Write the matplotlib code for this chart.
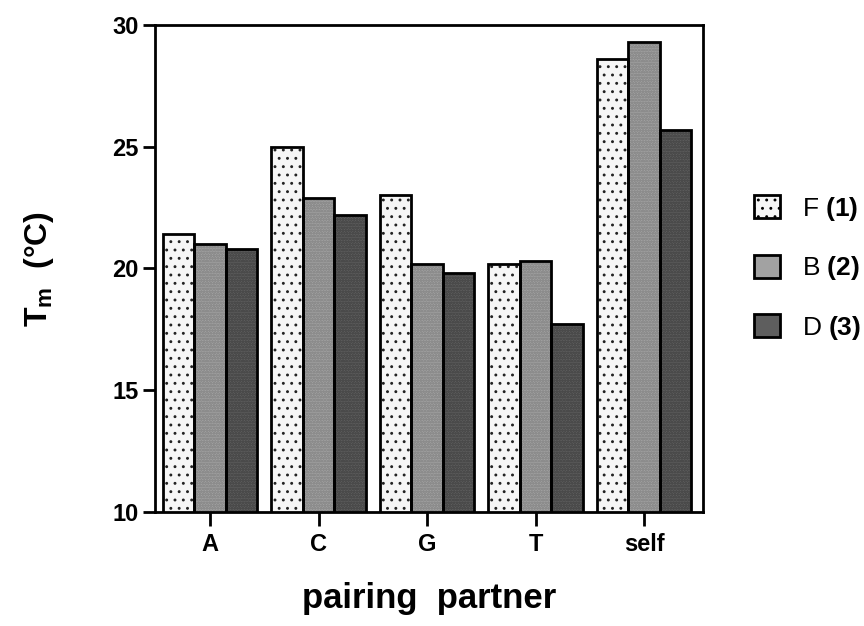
import numpy as np
import matplotlib
matplotlib.use("Agg")
import matplotlib.pyplot as plt
from matplotlib.patches import Patch

plt.rcParams['font.family'] = ['Liberation Sans', 'DejaVu Sans']
plt.rcParams['mathtext.fontset'] = 'custom'
plt.rcParams['mathtext.rm'] = 'Liberation Sans'
plt.rcParams['mathtext.bf'] = 'Liberation Sans:bold'
plt.rcParams['hatch.linewidth'] = 0.9

partners = ["A", "C", "G", "T", "self"]
series = ["F", "B", "D"]
series_num = ["1", "2", "3"]
tm_F = [21.4, 25.0, 23.0, 20.2, 28.6]
tm_B = [21.0, 22.9, 20.2, 20.3, 29.3]
tm_D = [20.8, 22.2, 19.8, 17.7, 25.7]

faces = ["#f6f6f6", "#a2a2a2", "#5e5e5e"]
hatch_cols = ["#222222", "#8c8c8c", "#4a4a4a"]
hatches = ["..", "oooooo", "oooooo"]

fig = plt.figure(figsize=(8.64, 6.26), dpi=100)
ax = fig.add_axes([0.1794, 0.1821, 0.6343, 0.7780])

x = np.arange(len(partners))
w = 0.289
for i, vals in enumerate([tm_F, tm_B, tm_D]):
    pos = x + (i - 1) * w
    ax.bar(pos, vals, w, color=faces[i], edgecolor=hatch_cols[i],
           hatch=hatches[i], linewidth=0, zorder=2)
    ax.bar(pos, vals, w, facecolor="none", edgecolor="black",
           linewidth=2.0, zorder=3)

ax.set_xlim(-0.507, 4.544)
ax.set_ylim(10, 30)
ax.set_yticks([10, 15, 20, 25, 30])
ax.set_xticks(x)
ax.set_xticklabels(partners)
for s in ax.spines.values():
    s.set_linewidth(2)
ax.tick_params(axis="y", length=9, width=2, labelsize=17, pad=3)
ax.tick_params(axis="x", length=10, width=2, labelsize=17, pad=5)
for lab in ax.get_xticklabels() + ax.get_yticklabels():
    lab.set_fontweight("bold")

ax.set_ylabel(r"$\mathbf{T_m}$  (°C)", fontsize=23, fontweight="bold", labelpad=40)
ax.set_xlabel("pairing  partner", fontsize=25, fontweight="bold", labelpad=19)

handles = [Patch(facecolor=faces[0], edgecolor="black", hatch=hatches[0], linewidth=2.0),
           Patch(facecolor=faces[1], edgecolor="black", linewidth=2.0),
           Patch(facecolor=faces[2], edgecolor="black", linewidth=2.0)]
labels = [s + r"$\;\mathbf{(" + n + ")}$" for s, n in zip(series, series_num)]
leg = fig.legend(handles, labels, loc="upper left", bbox_to_anchor=(0.861, 0.706),
                 frameon=False, fontsize=19, handlelength=0.95, handleheight=0.95,
                 labelspacing=1.2, handletextpad=0.85, borderaxespad=0)

fig.savefig("out.png", dpi=100)
